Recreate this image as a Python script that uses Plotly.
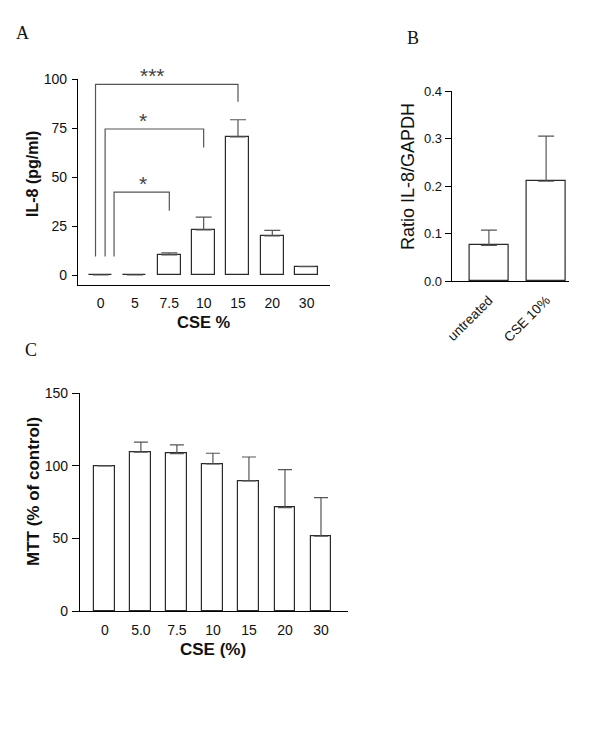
import plotly.graph_objects as go

# the page body adds an 8 px offset; the figure is sized to fill the rest
OFF = 8
W, H = 600 - OFF, 729 - OFF

# ---------------- data ----------------
# Panel A: IL-8 release vs CSE concentration
a_categories = ["0", "5", "7.5", "10", "15", "20", "30"]
a_il8 = [0, 0, 10.3, 23.0, 70.5, 20.0, 4.3]
a_il8_err = [0, 0, 1.0, 6.5, 8.7, 2.8, 0]
a_y_ticks = [0, 25, 50, 75, 100]

# significance brackets in panel A
a_sig_labels = ["*", "*", "***"]
a_sig_start = [0.39, 0.13, -0.15]        # left leg (category index scale)
a_sig_target = ["7.5", "10", "15"]
a_sig_height = [42.3, 74.5, 97.3]
a_sig_leg_end = [32.8, 65.0, 88.4]
a_sig_leg_start = 9.5

# Panel B: IL-8/GAPDH ratio
b_categories = ["untreated", "CSE 10%"]
b_ratio = [0.075, 0.21]
b_ratio_err = [0.032, 0.095]
b_y_ticks = [0.0, 0.1, 0.2, 0.3, 0.4]

# Panel C: MTT viability
c_categories = ["0", "5.0", "7.5", "10", "15", "20", "30"]
c_mtt = [100, 109.4, 108.4, 101.3, 89.6, 71.2, 51.5]
c_mtt_err = [0, 6.9, 6.0, 7.4, 16.5, 26.2, 26.6]
c_y_ticks = [0, 50, 100, 150]

# ---------------- helpers ----------------
def px_x(p):
    return (p - OFF) / W

def px_y(p):
    return 1 - (p - OFF) / H

FONT = "Liberation Sans, Arial, sans-serif"
SERIF = "Liberation Serif, Times New Roman, serif"
BAR_LINE = "#2a2a2a"
ERR_COL = "#555555"

fig = go.Figure()

def add_bars(cats, vals, errs, xa, ya, width, capw):
    fig.add_trace(go.Bar(
        x=cats, y=vals, xaxis=xa, yaxis=ya, width=width,
        marker=dict(color="white", line=dict(color=BAR_LINE, width=1.2)),
        error_y=dict(type="data", symmetric=False, array=errs,
                     arrayminus=[0] * len(errs), color=ERR_COL,
                     thickness=1.2, width=capw),
        showlegend=False, hoverinfo="skip",
    ))

add_bars(a_categories, a_il8, a_il8_err, "x", "y", 0.67, 8)
add_bars(b_categories, b_ratio, b_ratio_err, "x2", "y2", 0.68, 8)
add_bars(c_categories, c_mtt, c_mtt_err, "x3", "y3", 0.58, 7)

axis_common = dict(showgrid=False, zeroline=False, showline=True,
                   linecolor="black", linewidth=1.2, mirror=False,
                   automargin=False)

layout = dict(
    width=W, height=H,
    margin=dict(l=0, r=0, t=0, b=0, pad=0, autoexpand=False),
    paper_bgcolor="white", plot_bgcolor="white",
    bargap=0,
    # Panel A
    xaxis=dict(domain=[px_x(78), px_x(330)], anchor="y", type="category",
               range=[-0.66, 6.68], ticks="", ticklabelstandoff=5,
               tickfont=dict(family=FONT, size=14, color="#111"), **axis_common),
    yaxis=dict(domain=[px_y(285), px_y(79)], anchor="x", range=[-5.1, 100],
               tickvals=a_y_ticks, ticks="outside", ticklen=5, tickwidth=1.2,
               tickcolor="black", ticklabelstandoff=2,
               tickfont=dict(family=FONT, size=14, color="#111"), **axis_common),
    # Panel B
    xaxis2=dict(domain=[px_x(451.7), px_x(569)], anchor="y2", type="category",
                range=[-0.65, 1.4], ticks="", tickangle=-45, ticklabelstandoff=5,
                tickfont=dict(family=FONT, size=13.5, color="#111"), **axis_common),
    yaxis2=dict(domain=[px_y(281), px_y(91)], anchor="x2", range=[0, 0.4],
                tickvals=b_y_ticks, ticktext=[f"{v:.1f}" for v in b_y_ticks],
                ticks="outside", ticklen=6, tickwidth=1.2, tickcolor="black",
                ticklabelstandoff=0,
                tickfont=dict(family=FONT, size=13, color="#111"), **axis_common),
    # Panel C
    xaxis3=dict(domain=[px_x(80), px_x(348)], anchor="y3", type="category",
                range=[-0.69, 6.75], ticks="", ticklabelstandoff=6,
                tickfont=dict(family=FONT, size=14, color="#111"), **axis_common),
    yaxis3=dict(domain=[px_y(611), px_y(393.3)], anchor="x3", range=[0, 150],
                tickvals=c_y_ticks, ticks="outside", ticklen=7, tickwidth=1.2,
                tickcolor="black", ticklabelstandoff=1,
                tickfont=dict(family=FONT, size=14, color="#111"), **axis_common),
)
fig.update_layout(**layout)

# significance brackets
for lab, x0, tgt, hy, yend in zip(a_sig_labels, a_sig_start, a_sig_target,
                                   a_sig_height, a_sig_leg_end):
    x1 = a_categories.index(tgt)
    fig.add_shape(type="path", xref="x", yref="y",
                  path=f"M {x0},{a_sig_leg_start} L {x0},{hy} L {x1},{hy} L {x1},{yend}",
                  line=dict(color="#555555", width=1.2))
    fig.add_annotation(x=1.5 if lab == "***" else 1.24, y=hy, xref="x", yref="y",
                       text=lab, showarrow=False, yanchor="bottom", yshift=-5,
                       font=dict(family=FONT, size=21, color="#444"))

def ann(text, x, y, size, bold=False, angle=0, family=FONT):
    fig.add_annotation(x=px_x(x), y=px_y(y), xref="paper", yref="paper",
                       text=f"<b>{text}</b>" if bold else text, showarrow=False,
                       xanchor="center", yanchor="middle", textangle=angle,
                       font=dict(family=family, size=size, color="#111"))

# axis titles
ann("IL-8 (pg/ml)", 32, 174, 16, bold=True, angle=-90)
ann("CSE %", 204, 322, 16.5, bold=True)
ann("Ratio IL-8/GAPDH", 408, 177, 18, angle=-90)
ann("MTT (% of control)", 33, 492, 17, bold=True, angle=-90)
ann("CSE (%)", 213, 649, 17, bold=True)

# panel letters
ann("A", 22.5, 33, 18, family=SERIF)
ann("B", 413, 38.5, 18, family=SERIF)
ann("C", 30.5, 350, 18, family=SERIF)

fig.write_html("out.html")
